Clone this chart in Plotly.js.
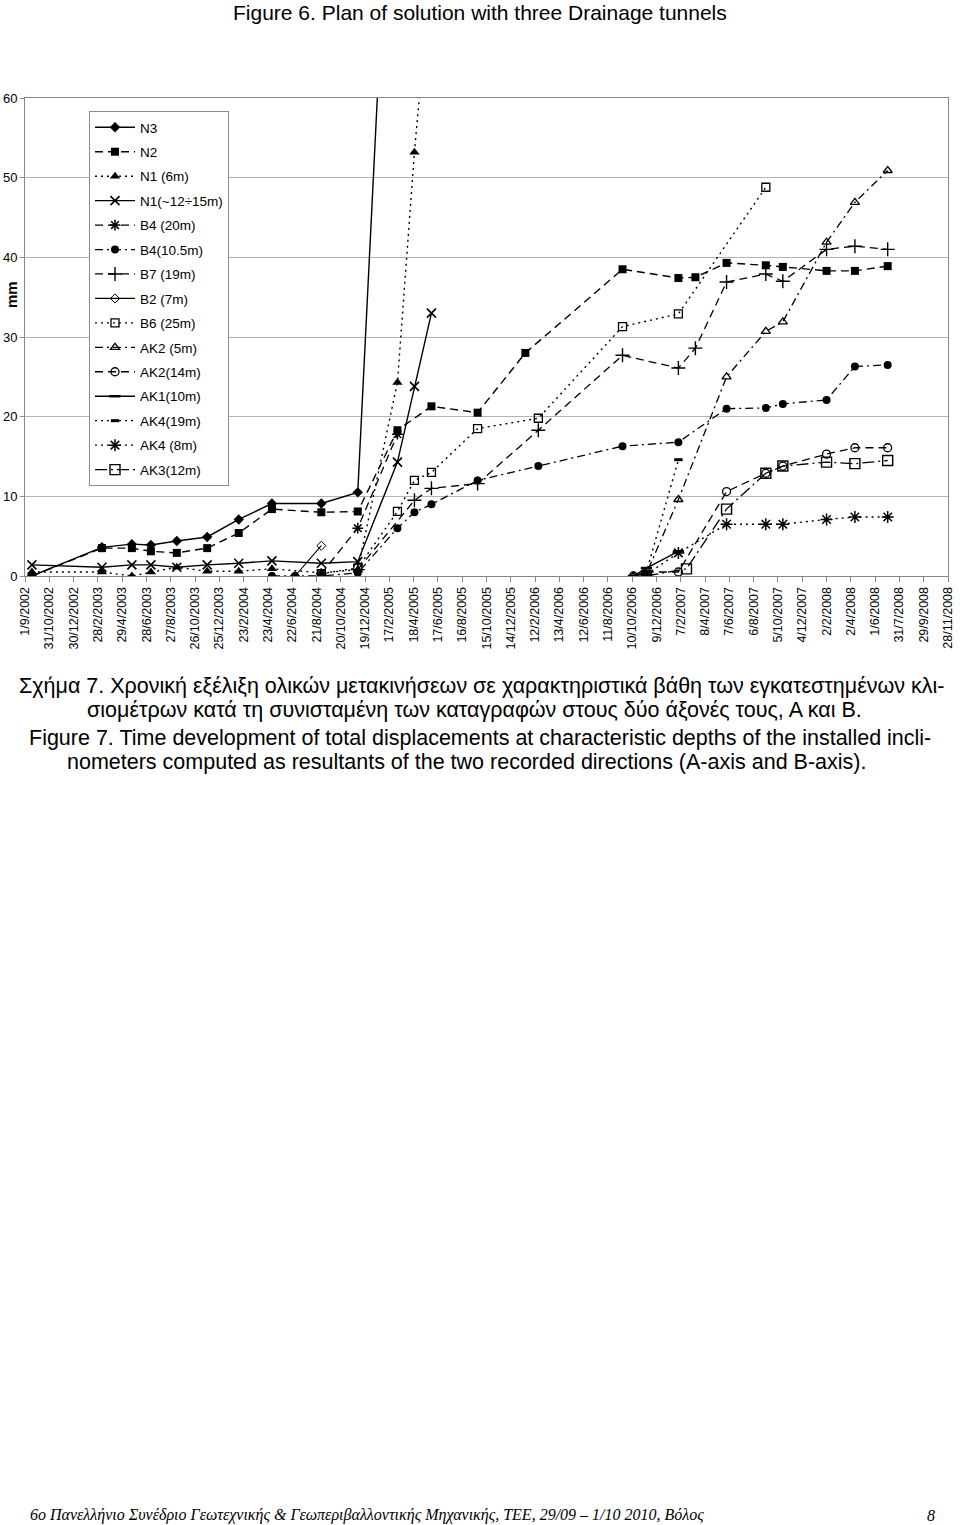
<!DOCTYPE html>
<html>
<head>
<meta charset="utf-8">
<script src="https://cdn.plot.ly/plotly-3.0.1.min.js"></script>
<style>html,body{margin:0;padding:0;background:#fff;}#chart{width:960px;height:1525px;}</style>
</head>
<body>
<div id="chart"></div>
<script>
// ---------- tick labels (x axis, every 60 days) ----------
const tickLabels = ['1/9/2002','31/10/2002','30/12/2002','28/2/2003','29/4/2003','28/6/2003','27/8/2003','26/10/2003','25/12/2003','23/2/2004','23/4/2004','22/6/2004','21/8/2004','20/10/2004','19/12/2004','17/2/2005','18/4/2005','17/6/2005','16/8/2005','15/10/2005','14/12/2005','12/2/2006','13/4/2006','12/6/2006','11/8/2006','10/10/2006','9/12/2006','7/2/2007','8/4/2007','7/6/2007','6/8/2007','5/10/2007','4/12/2007','2/2/2008','2/4/2008','1/6/2008','31/7/2008','29/9/2008','28/11/2008'];
const yTicks = [0,10,20,30,40,50,60];

// ---------- series ----------
const n3Dates = ['2002-09-18','2003-03-10','2003-05-23','2003-07-09','2003-09-11','2003-11-25','2004-02-11','2004-05-03','2004-09-02','2004-12-01','2005-03-09'];
const n3Vals  = [0,3.6,4.0,3.9,4.4,4.9,7.1,9.1,9.1,10.5,111];

const n2Dates = ['2002-09-18','2003-03-10','2003-05-23','2003-07-09','2003-09-11','2003-11-25','2004-02-11','2004-05-03','2004-09-02','2004-12-01','2005-03-09','2005-06-01','2005-09-23','2006-01-19','2006-09-16','2007-02-01','2007-03-15','2007-05-31','2007-09-05','2007-10-17','2008-02-02','2008-04-12','2008-07-02'];
const n2Vals  = [0,3.5,3.5,3.1,2.9,3.5,5.4,8.4,8.0,8.1,18.3,21.3,20.5,28.0,38.5,37.4,37.5,39.3,39.0,38.8,38.3,38.3,38.9];

const n1_6Dates = ['2002-09-18','2003-03-10','2003-05-23','2003-07-09','2003-09-11','2003-11-25','2004-02-11','2004-05-03','2004-09-02','2004-12-01','2005-03-09','2005-04-20','2005-06-01'];
const n1_6Vals  = [0.5,0.5,0,0.5,1.1,0.6,0.6,0.9,0.4,0.8,24.3,53.2,77];

const n1_12Dates = ['2002-09-18','2003-03-10','2003-05-23','2003-07-09','2003-09-11','2003-11-25','2004-02-11','2004-05-03','2004-09-02','2004-12-01','2005-03-09','2005-04-20','2005-06-01'];
const n1_12Vals  = [1.4,1.1,1.4,1.4,1.1,1.4,1.6,1.9,1.6,1.8,14.3,23.8,33.0];

const b4_20Dates = ['2004-09-02','2004-12-01','2005-03-09'];
const b4_20Vals  = [0.3,6.0,17.8];

const b4_10Dates = ['2004-05-03','2004-06-29','2004-09-02','2004-12-01','2005-03-09','2005-04-20','2005-06-01','2005-09-23','2006-02-20','2006-09-16','2007-02-01','2007-05-31','2007-09-05','2007-10-17','2008-02-02','2008-04-12','2008-07-02'];
const b4_10Vals  = [0,0,0,0.4,6.0,8.0,9.0,12.0,13.8,16.3,16.8,21.0,21.1,21.6,22.1,26.3,26.5];

const b7Dates = ['2004-12-01','2005-04-20','2005-06-01','2005-09-23','2006-02-20','2006-09-16','2007-02-01','2007-03-15','2007-05-31','2007-09-05','2007-10-17','2008-02-02','2008-04-12','2008-07-02'];
const b7Vals  = [0.8,9.5,11.0,11.6,18.3,27.7,26.1,28.6,36.9,37.9,37.0,41.0,41.4,41.0];

const b2Dates = ['2004-06-29','2004-09-02'];
const b2Vals  = [0,3.8];

const b6Dates = ['2004-09-02','2004-12-01','2005-03-09','2005-04-20','2005-06-01','2005-09-23','2006-02-20','2006-09-16','2007-02-01','2007-09-05'];
const b6Vals  = [0.3,1.0,8.1,12.0,13.0,18.5,19.8,31.3,32.9,48.8];

const ak2_5Dates = ['2006-10-13','2006-11-14','2007-02-01','2007-05-31','2007-09-05','2007-10-17','2008-02-02','2008-04-12','2008-07-02'];
const ak2_5Vals  = [0,0.3,9.6,25.0,30.7,31.9,41.9,46.9,50.9];

const ak2_14Dates = ['2006-10-13','2006-11-14','2007-02-01','2007-05-31','2007-09-05','2007-10-17','2008-02-02','2008-04-12','2008-07-02'];
const ak2_14Vals  = [0,0.5,0.5,10.6,12.9,13.8,15.3,16.1,16.1];

const ak1Dates = ['2006-10-13','2006-11-14','2007-02-01'];
const ak1Vals  = [0,1.0,3.1];

const ak4_19Dates = ['2006-10-13','2006-11-14','2007-02-01'];
const ak4_19Vals  = [0,0.5,14.6];

const ak4_8Dates = ['2006-11-14','2007-02-01','2007-05-31','2007-09-05','2007-10-17','2008-02-02','2008-04-12','2008-07-02'];
const ak4_8Vals  = [0.2,2.9,6.5,6.5,6.5,7.1,7.4,7.4];

const ak3Dates = ['2006-11-14','2007-02-21','2007-05-31','2007-09-05','2007-10-17','2008-02-02','2008-04-12','2008-07-02'];
const ak3Vals  = [0,0.9,8.4,12.9,13.8,14.3,14.1,14.5];

// ---------- helpers ----------
const tickVals = tickLabels.map(s => { const [d,m,y] = s.split('/'); return y + '-' + m.padStart(2,'0') + '-' + d.padStart(2,'0'); });
const L = 25, T = 98, PW = 923, PH = 478;
const px2x = px => (px - L) / PW;
const py2y = py => (T + PH - py) / PH;

const DASH = '8px,5px', DOT = '2px,4px', DASHDOT = '8px,4px,2px,4px', LONGDASHDOT = '12px,4px,2px,4px';

let gi = 0;
function tr(name, x, y, dash, symbol, size, lw, mlw) {
  gi++;
  return {
    type: 'scatter', mode: 'lines+markers', name: name, x: x, y: y,
    legendgroup: 'g' + gi,
    line: {color: '#000', width: lw || 1.3, dash: dash},
    marker: {symbol: symbol, size: size, color: '#000', line: {color: '#000', width: mlw || 0}},
    hoverinfo: 'skip'
  };
}

const data = [
  tr('N3', n3Dates, n3Vals, 'solid', 'diamond', 8, 1.4),
  tr('N2', n2Dates, n2Vals, DASH, 'square', 8, 1.4),
  tr('N1 (6m)', n1_6Dates, n1_6Vals, DOT, 'triangle-up', 9, 1.4),
  tr('N1(~12÷15m)', n1_12Dates, n1_12Vals, 'solid', 'x-thin-open', 9, 1.4, 1.6),
  tr('B4 (20m)', b4_20Dates, b4_20Vals, DASH, 'asterisk-open', 9, 1.3, 1.5),
  tr('B4(10.5m)', b4_10Dates, b4_10Vals, DASHDOT, 'circle', 8, 1.3),
  tr('B7 (19m)', b7Dates, b7Vals, DASH, 'cross-thin-open', 10, 1.3, 1.4),
  tr('B2 (7m)', b2Dates, b2Vals, 'solid', 'diamond-open', 7, 1.1, 1),
  tr('B6 (25m)', b6Dates, b6Vals, DOT, 'square-open', 8, 1.4, 1.3),
  tr('AK2 (5m)', ak2_5Dates, ak2_5Vals, DASHDOT, 'triangle-up-open', 8, 1.3, 1.3),
  tr('AK2(14m)', ak2_14Dates, ak2_14Vals, DASH, 'circle-open', 8, 1.3, 1.3),
  tr('AK1(10m)', ak1Dates, ak1Vals, 'solid', 'line-ew-open', 8, 1.4, 2.5),
  tr('AK4(19m)', ak4_19Dates, ak4_19Vals, DOT, 'line-ew-open', 6, 1.4, 3),
  tr('AK4 (8m)', ak4_8Dates, ak4_8Vals, DOT, 'asterisk-open', 10, 1.4, 1.5),
  tr('AK3(12m)', ak3Dates, ak3Vals, LONGDASHDOT, 'square-open', 10, 1.3, 1.4)
];

const capFont = {family: 'Liberation Sans, Arial, sans-serif', size: 21.5, color: '#000'};
const annotations = [
  {text: 'Figure 6. Plan of solution with three Drainage tunnels', x: px2x(480), y: py2y(13), font: {family: 'Liberation Sans, Arial, sans-serif', size: 21, color: '#000'}},
  {text: '<b>mm</b>', x: px2x(11), y: py2y(295), textangle: -90, font: {family: 'Liberation Sans, Arial, sans-serif', size: 15, color: '#000'}},
  {text: 'Σχήμα 7. Χρονική εξέλιξη ολικών μετακινήσεων σε χαρακτηριστικά βάθη των εγκατεστημένων κλι-', x: px2x(481), y: py2y(686), font: capFont},
  {text: 'σιομέτρων κατά τη συνισταμένη των καταγραφών στους δύο άξονές τους, Α και Β.', x: px2x(474), y: py2y(710), font: capFont},
  {text: 'Figure 7. Time development of total displacements at characteristic depths of the installed incli-', x: px2x(480), y: py2y(738), font: capFont},
  {text: 'nometers computed as resultants of the two recorded directions (A-axis and B-axis).', x: px2x(466), y: py2y(762), font: capFont},
  {text: '<i>6ο Πανελλήνιο Συνέδριο Γεωτεχνικής &amp; Γεωπεριβαλλοντικής Μηχανικής, ΤΕΕ, 29/09 – 1/10 2010, Βόλος</i>', x: px2x(28), xanchor: 'left', y: py2y(1515), font: {family: 'Liberation Serif, Times New Roman, serif', size: 16, color: '#000'}},
  {text: '<i>8</i>', x: px2x(931), y: py2y(1515), font: {family: 'Liberation Serif, Times New Roman, serif', size: 16, color: '#000'}}
].map(a => Object.assign({xref: 'paper', yref: 'paper', showarrow: false, xanchor: 'center', yanchor: 'middle'}, a));

const layout = {
  width: 960, height: 1525,
  margin: {l: L, r: 960 - L - PW, t: T, b: 1525 - T - PH, pad: 0},
  paper_bgcolor: '#fff', plot_bgcolor: '#fff',
  font: {family: 'Liberation Sans, Arial, sans-serif', size: 12, color: '#000'},
  showlegend: true,
  legend: {
    x: px2x(89), y: py2y(111), xanchor: 'left', yanchor: 'top',
    bgcolor: '#fff', bordercolor: '#8c8c8c', borderwidth: 1,
    font: {size: 13.5, color: '#000'}, traceorder: 'grouped', tracegroupgap: 3.9, itemwidth: 40
  },
  xaxis: {
    type: 'date', range: ['2002-09-01', '2008-11-28'],
    tickmode: 'array', tickvals: tickVals, ticktext: tickLabels, tickangle: -90,
    ticks: 'outside', ticklen: 5, tickcolor: '#888', tickfont: {size: 12.5, color: '#000'},
    showline: true, linecolor: '#888', linewidth: 1, mirror: true,
    showgrid: false, zeroline: false, fixedrange: true
  },
  yaxis: {
    range: [0, 60], tickmode: 'array', tickvals: yTicks,
    ticks: 'outside', ticklen: 4, tickcolor: '#888', tickfont: {size: 13, color: '#000'},
    showline: true, linecolor: '#888', linewidth: 1, mirror: true,
    showgrid: true, gridcolor: '#b4b4b4', gridwidth: 1, zeroline: false, fixedrange: true
  },
  annotations: annotations
};

Plotly.newPlot('chart', data, layout, {displayModeBar: false, staticPlot: true});
</script>
</body>
</html>
